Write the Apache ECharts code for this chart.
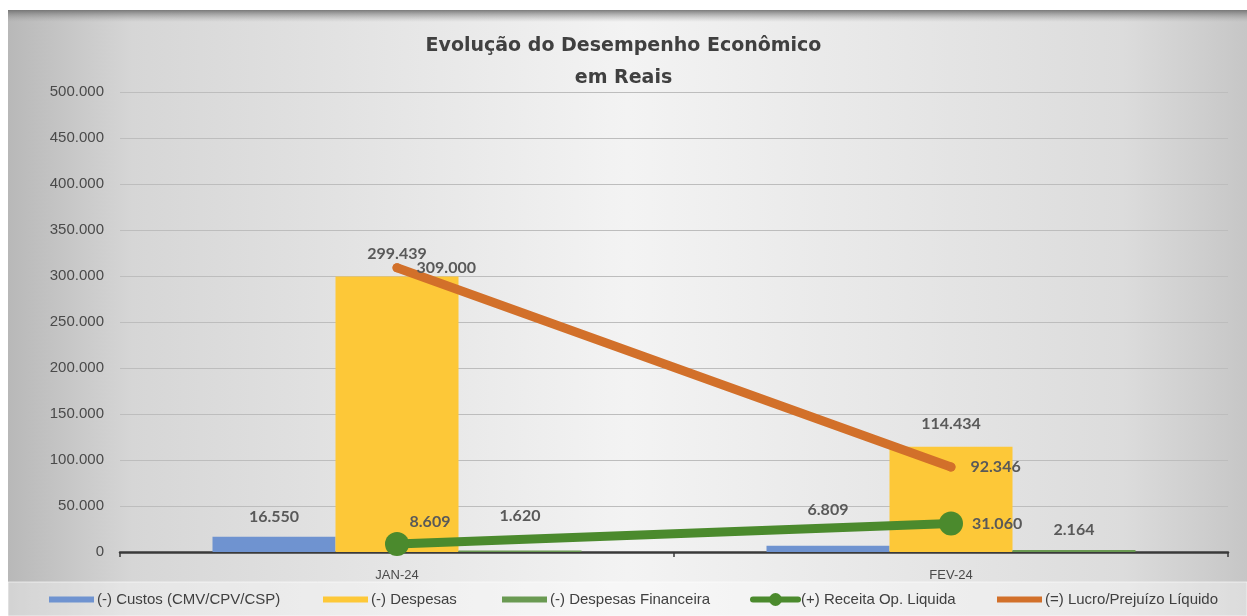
<!DOCTYPE html>
<html><head><meta charset="utf-8">
<script src="https://cdn.jsdelivr.net/npm/echarts@6/dist/echarts.min.js"></script>
<style>html,body{margin:0;padding:0;background:#fff}#c{width:1247px;height:616px}</style>
</head><body><div id="c"></div>
<script>
// ---- data ----
const categories = ['JAN-24', 'FEV-24'];
const custos = [16550, 6809];
const despesas = [299439, 114434];
const despesasFin = [1620, 2164];
const receita = [8609, 31060];
const lucro = [309000, 92346];
const yMin = 0, yMax = 500000, yInterval = 50000;
const seriesNames = ['(-) Custos (CMV/CPV/CSP)', '(-) Despesas', '(-) Despesas Financeira', '(+) Receita Op. Liquida', '(=) Lucro/Prejuízo Líquido'];
const titleLines = ['Evolução do Desempenho Econômico', 'em Reais'];

function fmt(v) { return String(Math.round(v)).replace(/\B(?=(\d{3})+(?!\d))/g, '.'); }

const C = { blue: '#6f93d0', yellow: '#fdc838', green2: '#6a9a52', green: '#4b8a2d', orange: '#d2702a' };
const labelFont = { fontFamily: 'Lato', fontWeight: 'bold', fontSize: 16, color: '#595959' };
const narrow = 'Liberation Sans';

function barData(vals, dists) {
  return vals.map((v, i) => ({ value: v, label: { distance: dists[i] } }));
}

const chart = echarts.init(document.getElementById('c'), null, { renderer: 'canvas' });
const option = {
  animation: false,
  backgroundColor: '#ffffff',
  graphic: [
    { type: 'rect', z: -100, silent: true, shape: { x: 8, y: 10, width: 1239, height: 606 },
      style: { fill: new echarts.graphic.LinearGradient(0, 0, 1, 0, [
        { offset: 0, color: '#b8b8b8' }, { offset: 0.1, color: '#d6d6d6' }, { offset: 0.5, color: '#f3f3f3' },
        { offset: 0.9, color: '#dcdcdc' }, { offset: 1, color: '#c6c6c6' }]) } },
    { type: 'rect', z: -99, silent: true, shape: { x: 8, y: 10, width: 1239, height: 12 },
      style: { fill: new echarts.graphic.LinearGradient(0, 0, 0, 1, [
        { offset: 0, color: 'rgba(110,110,110,0.9)' }, { offset: 1, color: 'rgba(160,160,160,0)' }]) } },
    { type: 'rect', z: -98, silent: true, shape: { x: 8, y: 582, width: 1239, height: 34 },
      style: { fill: 'rgba(255,255,255,0.38)', stroke: 'rgba(255,255,255,0.6)', lineWidth: 1 } },
    { type: 'text', left: 'center', top: 37, style: { text: titleLines[0], font: 'bold 19px "DejaVu Sans"', fill: '#404040' } },
    { type: 'text', left: 'center', top: 69, style: { text: titleLines[1], font: 'bold 19px "DejaVu Sans"', fill: '#404040' } }
  ],
  legend: [
    { data: [seriesNames[0]], left: 49, icon: 'rect' },
    { data: [seriesNames[1]], left: 323, icon: 'rect' },
    { data: [seriesNames[2]], left: 502, icon: 'rect' },
    { data: [seriesNames[3]], left: 750, itemHeight: 16, lineStyle: { width: 6 } },
    { data: [seriesNames[4]], left: 997, icon: 'rect' }
  ].map(l => Object.assign({
    top: 592, itemWidth: 45, itemHeight: 6, itemGap: 0, padding: 0,
    textStyle: { fontFamily: narrow, fontSize: 15, color: '#404040', padding: [0, 0, 0, -2] }
  }, l)),
  grid: { left: 120, right: 19, top: 92, bottom: 64 },
  xAxis: {
    type: 'category', data: categories,
    axisLine: { lineStyle: { color: '#3a3a3a', width: 2.5 } },
    axisTick: { show: true, length: 5, lineStyle: { color: '#3a3a3a', width: 1.5 } },
    axisLabel: { fontFamily: narrow, fontSize: 13, color: '#4a4a4a', margin: 17 }
  },
  yAxis: {
    type: 'value', min: yMin, max: yMax, interval: yInterval,
    axisLine: { show: false }, axisTick: { show: false },
    splitLine: { lineStyle: { color: '#bdbdbd', width: 1 } },
    axisLabel: { fontFamily: narrow, fontSize: 15, color: '#4a4a4a', margin: 16, formatter: v => fmt(v) }
  },
  series: [
    { name: seriesNames[0], type: 'bar', barWidth: 123, barGap: '0%', itemStyle: { color: C.blue },
      label: Object.assign({ show: true, position: 'top', formatter: p => fmt(p.value) }, labelFont),
      data: barData(custos, [12, 28]) },
    { name: seriesNames[1], type: 'bar', barWidth: 123, barGap: '0%', itemStyle: { color: C.yellow },
      label: Object.assign({ show: true, position: 'top', formatter: p => fmt(p.value) }, labelFont),
      data: barData(despesas, [15, 15]) },
    { name: seriesNames[2], type: 'bar', barWidth: 123, barGap: '0%', itemStyle: { color: C.green2 },
      label: Object.assign({ show: true, position: 'top', formatter: p => fmt(p.value) }, labelFont),
      data: barData(despesasFin, [27, 12]) },
    { name: seriesNames[3], type: 'line', symbol: 'circle', symbolSize: 24, z: 5,
      lineStyle: { color: C.green, width: 9, cap: 'round' }, itemStyle: { color: C.green },
      label: Object.assign({ show: true, position: 'right', distance: 9, formatter: p => fmt(p.value) }, labelFont),
      data: receita.map((v, i) => i === 0 ? { value: v, label: { position: 'top', distance: 2, offset: [33, 0] } } : v) },
    { name: seriesNames[4], type: 'line', symbol: 'circle', symbolSize: 9, z: 4,
      lineStyle: { color: C.orange, width: 9, cap: 'round' }, itemStyle: { color: C.orange },
      label: Object.assign({ show: true, position: 'right', distance: 15, formatter: p => fmt(p.value) }, labelFont),
      data: lucro }
  ]
};
chart.setOption(option);
</script>
</body></html>
